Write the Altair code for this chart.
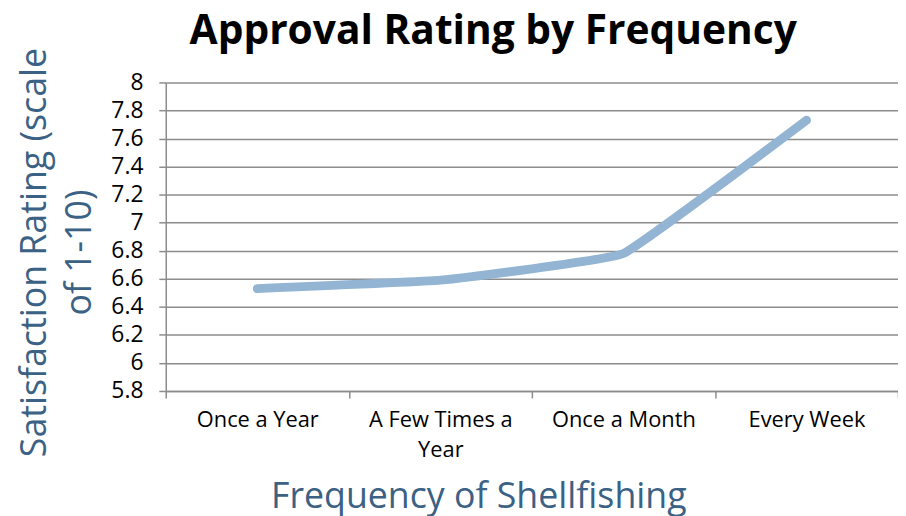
import altair as alt
import pandas as pd

categories = ["Once a Year", "A Few Times a Year", "Once a Month", "Every Week"]
ratings = [6.53, 6.59, 6.78, 7.73]
y_ticks = [5.8, 6.0, 6.2, 6.4, 6.6, 6.8, 7.0, 7.2, 7.4, 7.6, 7.8, 8.0]

df = pd.DataFrame({"freq": categories, "rating": ratings})

FONT = "Open Sans"
TITLE_COLOR = "#3B6184"

chart = alt.Chart(df).mark_line(
    color="#93B5D3", strokeWidth=9, strokeCap="round", strokeJoin="round",
    interpolate="cardinal", tension=0.75
).encode(
    x=alt.X("freq:N", sort=categories, scale=alt.Scale(paddingInner=0, paddingOuter=0),
            axis=alt.Axis(
                title="Frequency of Shellfishing", titleFont=FONT, titleFontSize=36,
                titleFontWeight="normal", titleColor=TITLE_COLOR,
                titleX=315, titleY=117, titleAlign="center", titleBaseline="alphabetic",
                labelFont=FONT, labelFontSize=22, labelColor="#000000", labelAngle=0,
                labelPadding=12, labelLineHeight=30, labelLimit=0,
                labelExpr="datum.value == 'A Few Times a Year' ? ['A Few Times a', 'Year'] : datum.label",
                tickBand="extent", tickSize=7, tickColor="#8C8C8C", tickWidth=1.5,
                domainColor="#8C8C8C", domainWidth=1.5, grid=False)),
    y=alt.Y("rating:Q", scale=alt.Scale(domain=[5.8, 8.0], nice=False, zero=False),
            axis=alt.Axis(
                values=y_ticks, format="~g",
                title=["Satisfaction Rating (scale", "of 1-10)"], titleFont=FONT,
                titleFontSize=36, titleFontWeight="normal", titleColor=TITLE_COLOR,
                titleAngle=-90, titleX=-121, titleY=171, titleAlign="center",
                titleBaseline="alphabetic", titleLineHeight=45,
                labelFont=FONT, labelFontSize=23, labelColor="#000000", labelPadding=16,
                tickSize=7, tickColor="#8C8C8C", tickWidth=1.5,
                domainColor="#8C8C8C", domainWidth=1.5,
                grid=True, gridColor="#8C8C8C", gridWidth=1.5)),
).properties(
    width=738, height=311,
    padding={"left": 159, "top": 73, "right": 0, "bottom": 124},
    autosize=alt.AutoSizeParams(type="none"),
    title=alt.TitleParams("Approval Rating by Frequency", font=FONT, fontSize=41,
                          fontWeight="bold", color="#000000", anchor="middle",
                          dx=-39, dy=26, offset=20),
).configure_view(stroke=None)

chart.save("out.html", embed_options={"renderer": "svg", "actions": False})
